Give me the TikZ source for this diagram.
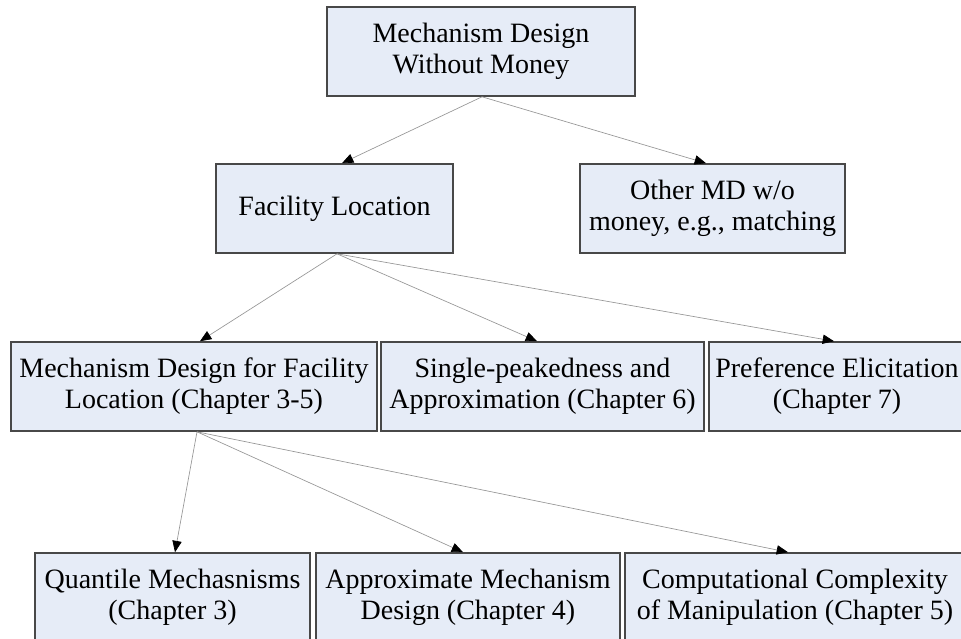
\documentclass[tikz,border=0pt]{standalone}
\usepackage{fontspec}
\setmainfont{Liberation Serif}
\usetikzlibrary{arrows.meta,calc}

\definecolor{boxfill}{RGB}{230,236,247}
\definecolor{boxline}{RGB}{72,72,72}
\definecolor{linkgray}{RGB}{150,150,150}

\tikzset{
  topic/.style={draw=boxline, fill=boxfill, line width=1.2pt, inner sep=0pt,
    align=center, minimum height=66.75pt,
    font=\fontsize{21pt}{23.25pt}\selectfont},
  link/.style={draw=linkgray, line width=0.5pt,
    -{Triangle[length=8.5pt,width=7pt,black]}}
}

\begin{document}
\begin{tikzpicture}[x=0.75pt,y=-0.75pt]
  \useasboundingbox (0,0) rectangle (961,639);
  \clip (0,0) rectangle (961,639);

  % first level
  \node[topic, minimum width=231pt] (root) at (481,51.5)
    {Mechanism Design\\Without Money};

  % second level
  \node[topic, minimum width=177.75pt] (fac) at (334.5,208.5)
    {Facility Location};
  \node[topic, minimum width=198.75pt] (other) at (712.5,208.5)
    {Other MD w/o\\money, e.g., matching};

  % third level
  \node[topic, minimum width=274.5pt] (mdfl) at (194,386.5)
    {Mechanism Design for Facility\\Location (Chapter 3-5)};
  \node[topic, minimum width=242.25pt] (peak) at (542.5,386.5)
    {Single-peakedness and\\Approximation (Chapter 6)};
  \node[topic, minimum width=192pt] (elic) at (837,386.5)
    {Preference Elicitation\\(Chapter 7)};

  % fourth level
  \node[topic, minimum width=206.25pt] (quant) at (172.5,597.5)
    {Quantile Mechasnisms\\(Chapter 3)};
  \node[topic, minimum width=228pt] (approx) at (468,597.5)
    {Approximate Mechanism\\Design (Chapter 4)};
  \node[topic, minimum width=255pt] (comp) at (795,597.5)
    {Computational Complexity\\of Manipulation (Chapter 5)};

  % connectors
  \draw[link] ($(root.south)+(1,0)$) -- ($(fac.north)+(7.5,0)$);
  \draw[link] ($(root.south)+(1,0)$) -- ($(other.north)+(-6.5,0)$);

  \draw[link] ($(fac.south)+(2.5,0)$) -- ($(mdfl.north)+(6,0)$);
  \draw[link] ($(fac.south)+(2.5,0)$) -- ($(peak.north)+(-5.5,0)$);
  \draw[link] ($(fac.south)+(2.5,0)$) -- ($(elic.north)+(-3,0)$);

  \draw[link] ($(mdfl.south)+(3,0)$) -- ($(quant.north)+(2.5,0)$);
  \draw[link] ($(mdfl.south)+(3,0)$) -- ($(approx.north)+(-5,0)$);
  \draw[link] ($(mdfl.south)+(3,0)$) -- ($(comp.north)+(-7,0)$);
\end{tikzpicture}
\end{document}
